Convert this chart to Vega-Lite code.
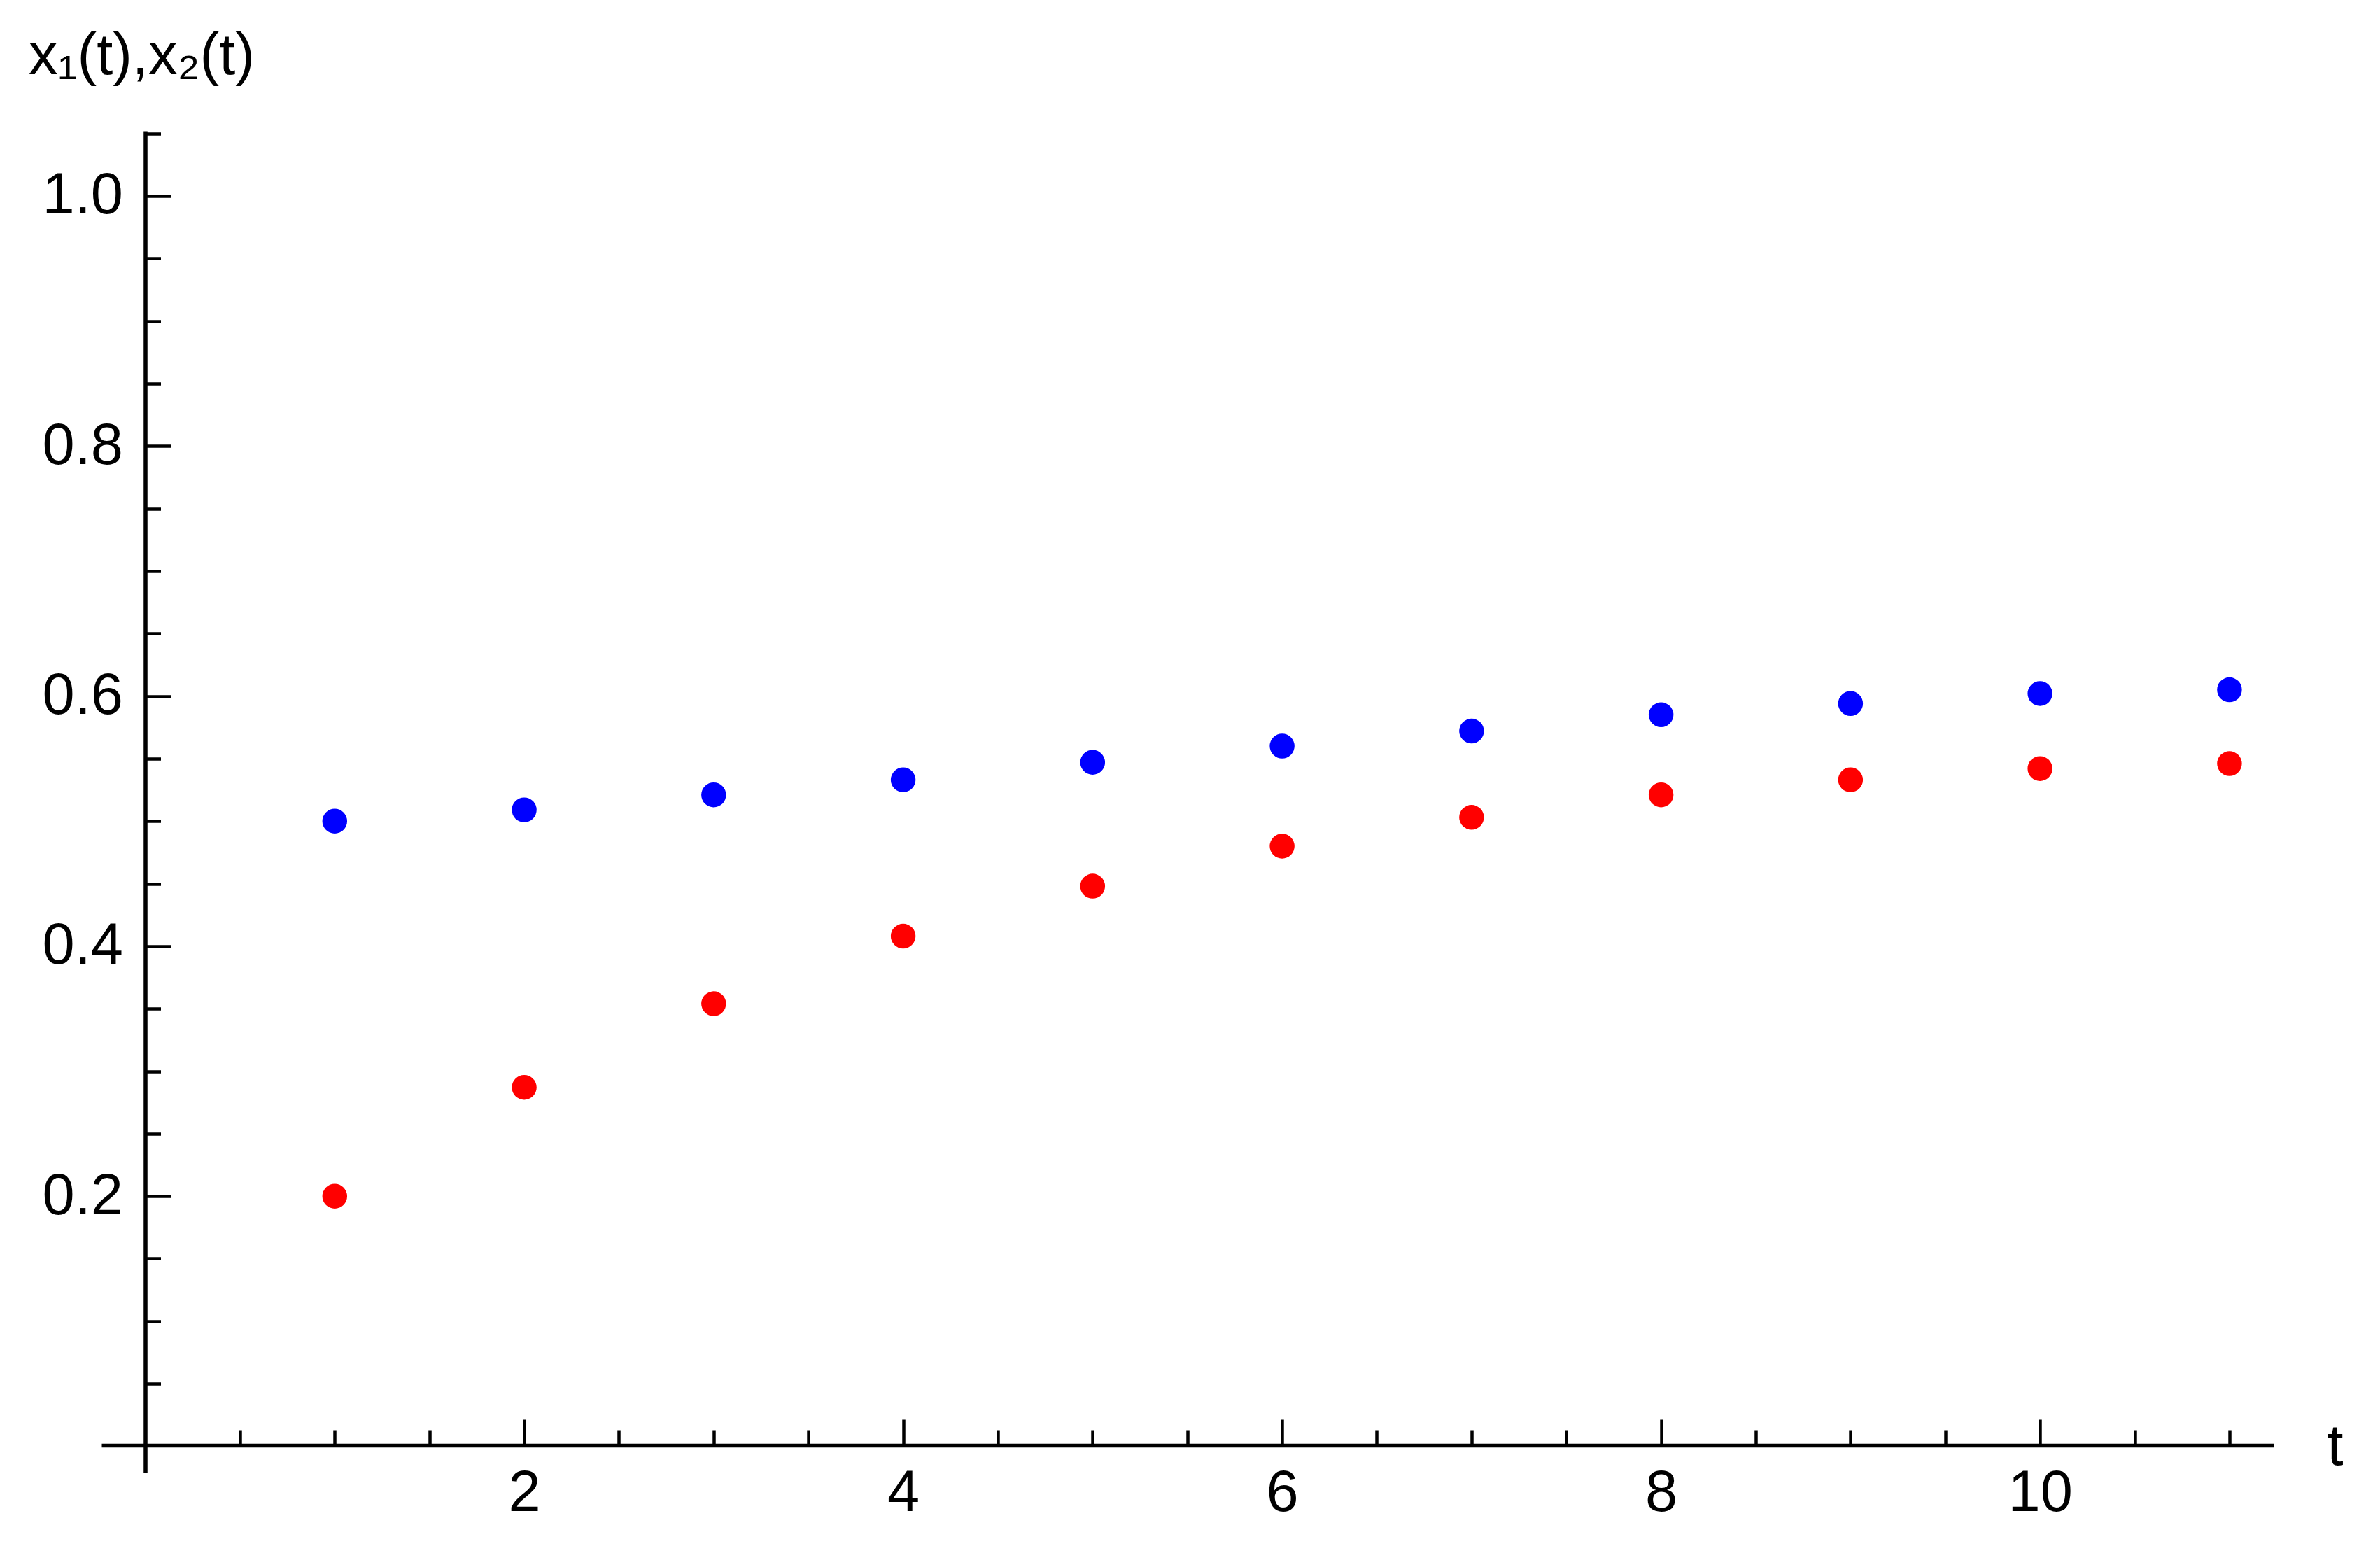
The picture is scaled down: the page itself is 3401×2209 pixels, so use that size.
{
  "$schema": "https://vega.github.io/schema/vega-lite/v6.json",
  "width": 3104,
  "height": 1917,
  "autosize": {"type": "none"},
  "padding": {"left": 145, "top": 187, "right": 152, "bottom": 105},
  "background": "white",
  "config": {
    "view": {"stroke": null},
    "axis": {
      "grid": false,
      "domainColor": "black",
      "domainWidth": 5.5,
      "tickColor": "black",
      "tickWidth": 4.5,
      "labelFont": "Liberation Sans",
      "labelFontSize": 83,
      "labelColor": "black",
      "titleFont": "Liberation Sans",
      "titleFontSize": 83,
      "titleFontWeight": "normal",
      "titleColor": "black",
      "labelOverlap": false,
      "labelFlush": false,
      "labelBound": false
    }
  },
  "data": {
    "values": [
      {"t": 1, "value": 0.500, "series": "x1"},
      {"t": 2, "value": 0.509, "series": "x1"},
      {"t": 3, "value": 0.521, "series": "x1"},
      {"t": 4, "value": 0.533, "series": "x1"},
      {"t": 5, "value": 0.547, "series": "x1"},
      {"t": 6, "value": 0.560, "series": "x1"},
      {"t": 7, "value": 0.572, "series": "x1"},
      {"t": 8, "value": 0.585, "series": "x1"},
      {"t": 9, "value": 0.594, "series": "x1"},
      {"t": 10, "value": 0.602, "series": "x1"},
      {"t": 11, "value": 0.605, "series": "x1"},
      {"t": 1, "value": 0.200, "series": "x2"},
      {"t": 2, "value": 0.287, "series": "x2"},
      {"t": 3, "value": 0.354, "series": "x2"},
      {"t": 4, "value": 0.408, "series": "x2"},
      {"t": 5, "value": 0.448, "series": "x2"},
      {"t": 6, "value": 0.480, "series": "x2"},
      {"t": 7, "value": 0.503, "series": "x2"},
      {"t": 8, "value": 0.521, "series": "x2"},
      {"t": 9, "value": 0.533, "series": "x2"},
      {"t": 10, "value": 0.542, "series": "x2"},
      {"t": 11, "value": 0.546, "series": "x2"}
    ]
  },
  "mark": {"type": "circle", "size": 1257, "opacity": 1},
  "encoding": {
    "x": {
      "field": "t",
      "type": "quantitative",
      "scale": {"domain": [-0.231, 11.233], "nice": false, "zero": false},
      "axis": {
        "title": "t",
        "offset": -39,
        "values": [0.5, 1, 1.5, 2, 2.5, 3, 3.5, 4, 4.5, 5, 5.5, 6, 6.5, 7, 7.5, 8, 8.5, 9, 9.5, 10, 10.5, 11],
        "tickSize": {"condition": {"test": "datum.value % 2 === 0", "value": -37}, "value": -22},
        "labelExpr": "datum.value % 2 === 0 ? format(datum.value, 'd') : ''",
        "labelPadding": 64,
        "titleAngle": 0,
        "titleAnchor": "start",
        "titleAlign": "left",
        "titleBaseline": "alphabetic",
        "titleX": 3180,
        "titleY": 27
      }
    },
    "y": {
      "field": "value",
      "type": "quantitative",
      "scale": {"domain": [-0.021, 1.052], "nice": false, "zero": false},
      "axis": {
        "title": "x₁(t),x₂(t)",
        "offset": -62.5,
        "values": [0.05, 0.1, 0.15, 0.2, 0.25, 0.3, 0.35, 0.4, 0.45, 0.5, 0.55, 0.6, 0.65, 0.7, 0.75, 0.8, 0.85, 0.9, 0.95, 1.0, 1.05],
        "tickSize": {"condition": {"test": "round(datum.value * 100) % 20 === 0", "value": -37}, "value": -22},
        "labelExpr": "round(datum.value * 100) % 20 === 0 ? format(datum.value, '.1f') : ''",
        "labelPadding": 69,
        "titleAngle": 0,
        "titleAnchor": "start",
        "titleAlign": "left",
        "titleBaseline": "alphabetic",
        "titleX": -167,
        "titleY": -82
      }
    },
    "color": {
      "field": "series",
      "type": "nominal",
      "scale": {"domain": ["x1", "x2"], "range": ["#0000ff", "#ff0000"]},
      "legend": null
    }
  }
}
